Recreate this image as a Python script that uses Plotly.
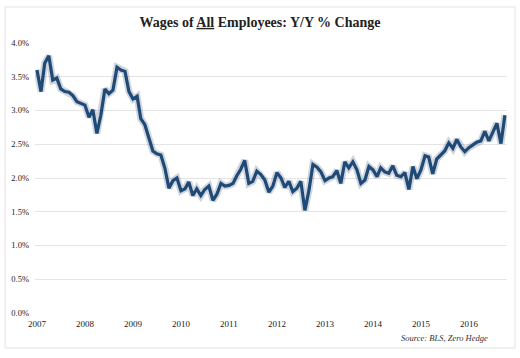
import plotly.graph_objects as go
import pandas as pd

# Monthly Y/Y % change, Jan 2007 .. Oct 2016
start_month = "2007-01-01"
wage_growth = [
    3.60, 3.28, 3.70, 3.81, 3.45, 3.48, 3.32, 3.28, 3.27, 3.22, 3.13, 3.11,
    3.08, 2.90, 3.01, 2.66, 2.93, 3.32, 3.25, 3.30, 3.64, 3.60, 3.58, 3.28,
    3.17, 3.21, 2.88, 2.79, 2.60, 2.40, 2.36, 2.34, 2.14, 1.85, 1.96, 2.00,
    1.81, 1.84, 1.94, 1.74, 1.84, 1.74, 1.83, 1.88, 1.67, 1.76, 1.92, 1.88,
    1.89, 1.92, 2.03, 2.13, 2.26, 1.92, 1.95, 2.10, 2.05, 1.97, 1.79, 1.88,
    2.08, 2.00, 1.86, 1.95, 1.80, 1.85, 1.95, 1.52, 1.82, 2.20, 2.16, 2.09,
    1.96, 2.00, 2.02, 2.11, 1.92, 2.24, 2.15, 2.24, 2.12, 1.92, 1.97, 2.17,
    2.12, 2.02, 2.15, 2.09, 2.07, 2.18, 2.04, 2.02, 2.08, 1.83, 2.17, 1.99,
    2.12, 2.33, 2.31, 2.06, 2.28, 2.34, 2.40, 2.52, 2.44, 2.57, 2.46, 2.39,
    2.45, 2.49, 2.53, 2.55, 2.69, 2.55, 2.68, 2.81, 2.51, 2.93,
]
months = pd.date_range(start_month, periods=len(wage_growth), freq="MS")

y_ticks = [0.0, 0.5, 1.0, 1.5, 2.0, 2.5, 3.0, 3.5, 4.0]
y_tick_labels = [f"{v:.1f}%" for v in y_ticks]

title_text = "<b>Wages of <u>All</u> Employees: Y/Y % Change</b>"
source_text = "<i>Source: BLS, Zero Hedge</i>"

serif = "Liberation Serif"

fig = go.Figure()
# soft shadow under the line
fig.add_trace(go.Scatter(
    x=months, y=wage_growth, mode="lines",
    line=dict(color="rgba(40,70,110,0.22)", width=7),
    hoverinfo="skip", showlegend=False,
))
fig.add_trace(go.Scatter(
    x=months, y=wage_growth, mode="lines",
    line=dict(color="#1f4a75", width=3.2),
    showlegend=False,
))

fig.update_layout(
    width=520, height=358,
    margin=dict(l=35, r=13, t=43, b=45, autoexpand=False),
    paper_bgcolor="white", plot_bgcolor="white",
    title=dict(text=title_text, x=0.5, xanchor="center", y=1 - 22 / 358,
               yanchor="middle",
               font=dict(family=serif, size=14, color="#222")),
    xaxis=dict(
        type="date", automargin=False,
        range=["2006-12-17", "2016-10-17"],
        tick0="2007-01-01", dtick="M12", tickformat="%Y",
        showgrid=False, zeroline=False, showline=False, ticks="",
        tickfont=dict(family=serif, size=9, color="#222"),
        ticklabelstandoff=4,
    ),
    yaxis=dict(
        range=[0, 4.0], automargin=False,
        tickvals=y_ticks, ticktext=y_tick_labels,
        showgrid=True, gridcolor="#e4e4e4", gridwidth=1,
        zeroline=False, showline=False, ticks="",
        tickfont=dict(family=serif, size=8.5, color="#222"),
        ticklabelstandoff=5,
    ),
    annotations=[dict(
        text=source_text, xref="paper", yref="paper",
        x=(490 - 35) / 472, y=-(338 - 313) / 270,
        xanchor="right", yanchor="middle", showarrow=False,
        font=dict(family=serif, size=8.5, color="#333"),
    )],
    shapes=[dict(
        type="rect", xref="paper", yref="paper",
        x0=(5 - 35) / 472, x1=(515 - 35) / 472,
        y0=-(348 - 313) / 270, y1=(313 - 7) / 270,
        line=dict(color="#e2e2e2", width=1), layer="below",
    )],
)

fig.write_html("out.html", config={"displayModeBar": False},
               post_script="document.body.style.margin='0';")
